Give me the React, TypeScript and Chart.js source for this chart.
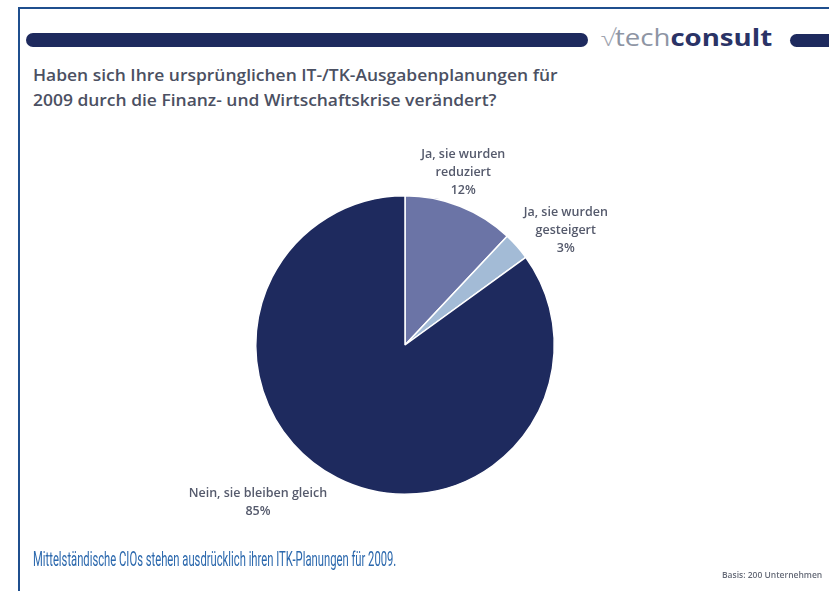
import React, { useEffect, useRef } from "react";
import { Chart, registerables } from "chart.js";

Chart.register(...registerables);

const categories: string[][] = [
  ["Ja, sie wurden", "reduziert"],
  ["Ja, sie wurden", "gesteigert"],
  ["Nein, sie bleiben gleich"],
];
const shares: number[] = [12, 3, 85];
const sliceColors: string[] = ["#6b74a6", "#a3bbd6", "#1e2a5e"];

const titleLines = [
  "Haben sich Ihre ursprünglichen IT-/TK-Ausgabenplanungen für",
  "2009 durch die Finanz- und Wirtschaftskrise verändert?",
];
const footerText = "Mittelständische CIOs stehen ausdrücklich ihren ITK-Planungen für 2009.";
const basisText = "Basis: 200 Unternehmen";

const labelFont = "600 12.5px 'Open Sans'";
const labelColor = "#555a6c";

const outsideLabels = {
  id: "outsideLabels",
  afterDraw(chart: any) {
    const ctx = chart.ctx;
    const meta = chart.getDatasetMeta(0);
    ctx.save();
    ctx.font = labelFont;
    ctx.fillStyle = labelColor;
    ctx.textBaseline = "middle";
    const lh = 18;
    meta.data.forEach((arc: any, i: number) => {
      const mid = (arc.startAngle + arc.endAngle) / 2;
      const r = arc.outerRadius + 9;
      const ax = arc.x + Math.cos(mid) * r;
      const ay = arc.y + Math.sin(mid) * r;
      const lines = [...categories[i], shares[i] + "%"];
      const w = Math.max(...lines.map((l) => ctx.measureText(l).width));
      const c = Math.cos(mid);
      const s = Math.sin(mid);
      let cx = ax;
      if (c > 0.5) cx = ax + w / 2;
      else if (c < -0.3) cx = ax - w / 2 - 6;
      const h = lines.length * lh;
      const top = ay - h * (0.5 - 0.5 * s) + (Math.abs(s) < 0.8 ? 8 : 0);
      ctx.textAlign = "center";
      lines.forEach((l, k) => {
        ctx.fillText(l, cx, top + lh * k + lh / 2);
      });
    });
    ctx.restore();
  },
};

export default function App() {
  const ref = useRef<HTMLCanvasElement | null>(null);
  useEffect(() => {
    document.body.style.margin = "0";
    const chart = new Chart(ref.current as HTMLCanvasElement, {
      type: "pie",
      data: {
        labels: categories.map((c) => c.join(" ")),
        datasets: [
          {
            data: shares,
            backgroundColor: sliceColors,
            borderColor: "#ffffff",
            borderWidth: 1.5,
          },
        ],
      },
      options: {
        animation: false,
        responsive: false,
        maintainAspectRatio: false,
        layout: { padding: { left: 255, top: 195, right: 274, bottom: 96 } },
        plugins: { legend: { display: false }, tooltip: { enabled: false } },
      },
      plugins: [outsideLabels],
    });
    return () => chart.destroy();
  }, []);

  return (
    <div
      style={{
        position: "relative",
        width: 829,
        height: 591,
        background: "#ffffff",
        overflow: "hidden",
      }}
    >
      <div
        style={{
          position: "absolute",
          left: 18,
          top: 7,
          width: 830,
          height: 600,
          borderLeft: "2px solid #1f4f8e",
          borderTop: "2px solid #1f4f8e",
        }}
      />
      <div
        style={{
          position: "absolute",
          left: 26,
          top: 33,
          width: 562,
          height: 14,
          borderRadius: 7,
          background: "#1e2a5e",
        }}
      />
      <div
        style={{
          position: "absolute",
          left: 790,
          top: 34,
          width: 60,
          height: 13,
          borderRadius: 7,
          background: "#1e2a5e",
        }}
      />
      <div
        style={{
          position: "absolute",
          left: 600,
          top: 22,
          fontFamily: "'Open Sans', sans-serif",
          fontSize: 23,
          lineHeight: "30px",
          whiteSpace: "nowrap",
          transform: "scaleX(1.2)",
          transformOrigin: "left top",
        }}
      >
        <span style={{ color: "#a0a5b0", fontStyle: "italic", fontWeight: 300, marginRight: 1 }}>√</span>
        <span style={{ color: "#8e95a4" }}>tech</span>
        <span style={{ color: "#2a3366", fontWeight: 700 }}>consult</span>
      </div>
      <div
        style={{
          position: "absolute",
          left: 33,
          top: 63,
          fontFamily: "'Open Sans', sans-serif",
          fontWeight: 600,
          fontSize: 15.5,
          lineHeight: "25px",
          color: "#4b5062",
          whiteSpace: "nowrap",
          transform: "scaleX(1.125)",
          transformOrigin: "left top",
        }}
      >
        {titleLines.map((l, i) => (
          <div key={i}>{l}</div>
        ))}
      </div>
      <canvas
        ref={ref}
        width={829}
        height={591}
        style={{ position: "absolute", left: 0, top: 0 }}
      />
      <div
        style={{
          position: "absolute",
          left: 33,
          top: 546,
          fontFamily: "'Roboto', sans-serif",
          fontSize: 21,
          lineHeight: "26px",
          color: "#2b68ad",
          whiteSpace: "nowrap",
          transform: "scaleX(0.535)",
          transformOrigin: "left top",
        }}
      >
        {footerText}
      </div>
      <div
        style={{
          position: "absolute",
          left: 722,
          top: 569,
          fontFamily: "'Open Sans', sans-serif",
          fontSize: 8.5,
          fontWeight: 600,
          color: "#666b78",
          whiteSpace: "nowrap",
        }}
      >
        {basisText}
      </div>
    </div>
  );
}
